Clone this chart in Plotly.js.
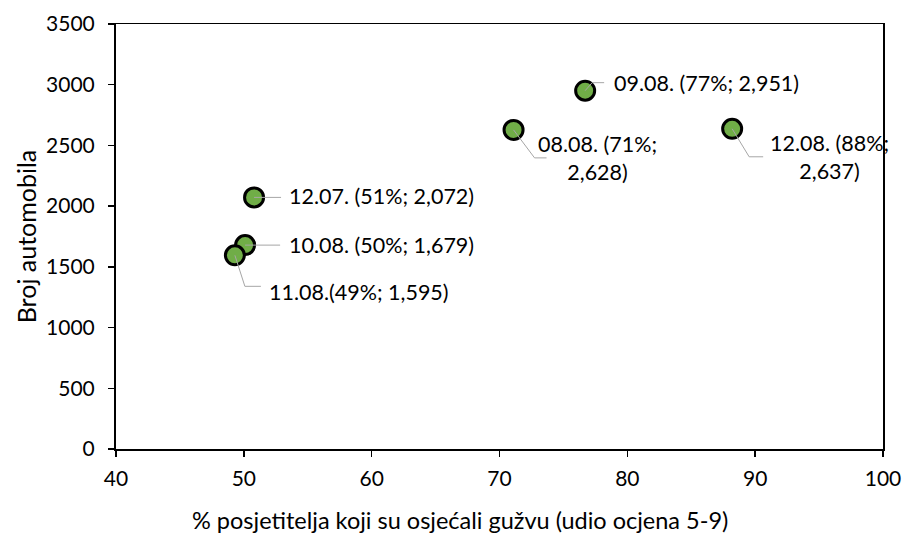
<!DOCTYPE html>
<html>
<head>
<meta charset="utf-8">
<script src="https://cdn.plot.ly/plotly-3.0.1.min.js"></script>
<style>html,body{margin:0;padding:0;background:#fff;}#chart{width:904px;height:535px;}</style>
</head>
<body>
<div id="chart"></div>
<script>
// Data
var dates = ["12.07.", "10.08.", "11.08.", "08.08.", "09.08.", "12.08."];
var pctCrowded = [50.8, 50.1, 49.3, 71.1, 76.7, 88.2];
var pctLabel = [51, 50, 49, 71, 77, 88];
var cars = [2072, 1679, 1595, 2628, 2951, 2637];
var xTicks = [40, 50, 60, 70, 80, 90, 100];
var yTicks = [0, 500, 1000, 1500, 2000, 2500, 3000, 3500];
var xTitle = "% posjetitelja koji su osjećali gužvu (udio ocjena 5-9)";
var yTitle = "Broj automobila";

// Label styling (pixel offsets relative to each point)
var labelSep = [" ", " ", "", " ", " ", " "];
var labelBreak = [" ", " ", " ", "<br>", " ", "<br>"];
var labelAnchor = ["left", "left", "left", "center", "left", "center"];
var labelDx = [33, 42, 32, 84, 27, 97];
var labelDy = [1, 0, -37, -28, 8, -28];
var leaderPaths = [
  "M0,0 L27,0",
  "M0,0 L35,0",
  "M0,0 L10,-31 L26,-31",
  "M0,0 L21,-28 L33,-28",
  "M0,0 L7,8 L19,8",
  "M0,0 L17,-28 L31,-28"
];

function fmt(n) { return n.toLocaleString("en-US"); }

var FONT = "Lato, 'Open Sans', sans-serif";

var annotations = [];
var shapes = [];
for (var i = 0; i < dates.length; i++) {
  annotations.push({
    x: pctCrowded[i], y: cars[i], xref: "x", yref: "y",
    text: dates[i] + labelSep[i] + "(" + pctLabel[i] + "%;" + labelBreak[i] + fmt(cars[i]) + ")",
    showarrow: false,
    xanchor: labelAnchor[i], yanchor: "middle", align: "center",
    xshift: labelDx[i], yshift: labelDy[i],
    font: {family: FONT, size: 21.5, color: "#000"}
  });
  shapes.push({
    type: "path", xref: "x", yref: "y",
    xsizemode: "pixel", ysizemode: "pixel",
    xanchor: pctCrowded[i], yanchor: cars[i],
    path: leaderPaths[i],
    line: {color: "#A6A6A6", width: 1},
    layer: "above"
  });
}

// X axis title (centred on the chart area, as in the original)
annotations.push({
  text: xTitle, xref: "paper", yref: "paper", x: 0.4485, y: -0.166,
  xanchor: "center", yanchor: "middle", showarrow: false, borderpad: 0,
  font: {family: FONT, size: 23.5, color: "#000"}
});

var trace = {
  type: "scatter", mode: "markers",
  x: pctCrowded, y: cars,
  marker: {size: 19, color: "#70AD47", line: {color: "#000", width: 3}},
  hoverinfo: "none", cliponaxis: false
};

var layout = {
  width: 904, height: 535,
  margin: {l: 116, r: 21, t: 24, b: 86},
  paper_bgcolor: "#fff", plot_bgcolor: "#fff",
  showlegend: false,
  font: {family: FONT, color: "#000"},
  xaxis: {
    range: [40, 100], tickvals: xTicks, ticktext: xTicks.map(String),
    showgrid: false, zeroline: false,
    showline: true, linecolor: "#000", linewidth: 1.5, mirror: true,
    ticks: "outside", ticklen: 6, tickwidth: 1.5, tickcolor: "#000",
    ticklabelstandoff: 4,
    tickfont: {family: FONT, size: 21, color: "#000"}
  },
  yaxis: {
    range: [0, 3500], tickvals: yTicks, ticktext: yTicks.map(String),
    showgrid: false, zeroline: false,
    showline: true, linecolor: "#000", linewidth: 2, mirror: true,
    ticks: "outside", ticklen: 6, tickwidth: 1.5, tickcolor: "#000",
    ticklabelstandoff: 9,
    tickfont: {family: FONT, size: 21, color: "#000"},
    title: {text: yTitle, font: {family: FONT, size: 25, color: "#000"}, standoff: 2}
  },
  annotations: annotations,
  shapes: shapes
};

Plotly.newPlot("chart", [trace], layout, {staticPlot: true, displayModeBar: false});
</script>
</body>
</html>
